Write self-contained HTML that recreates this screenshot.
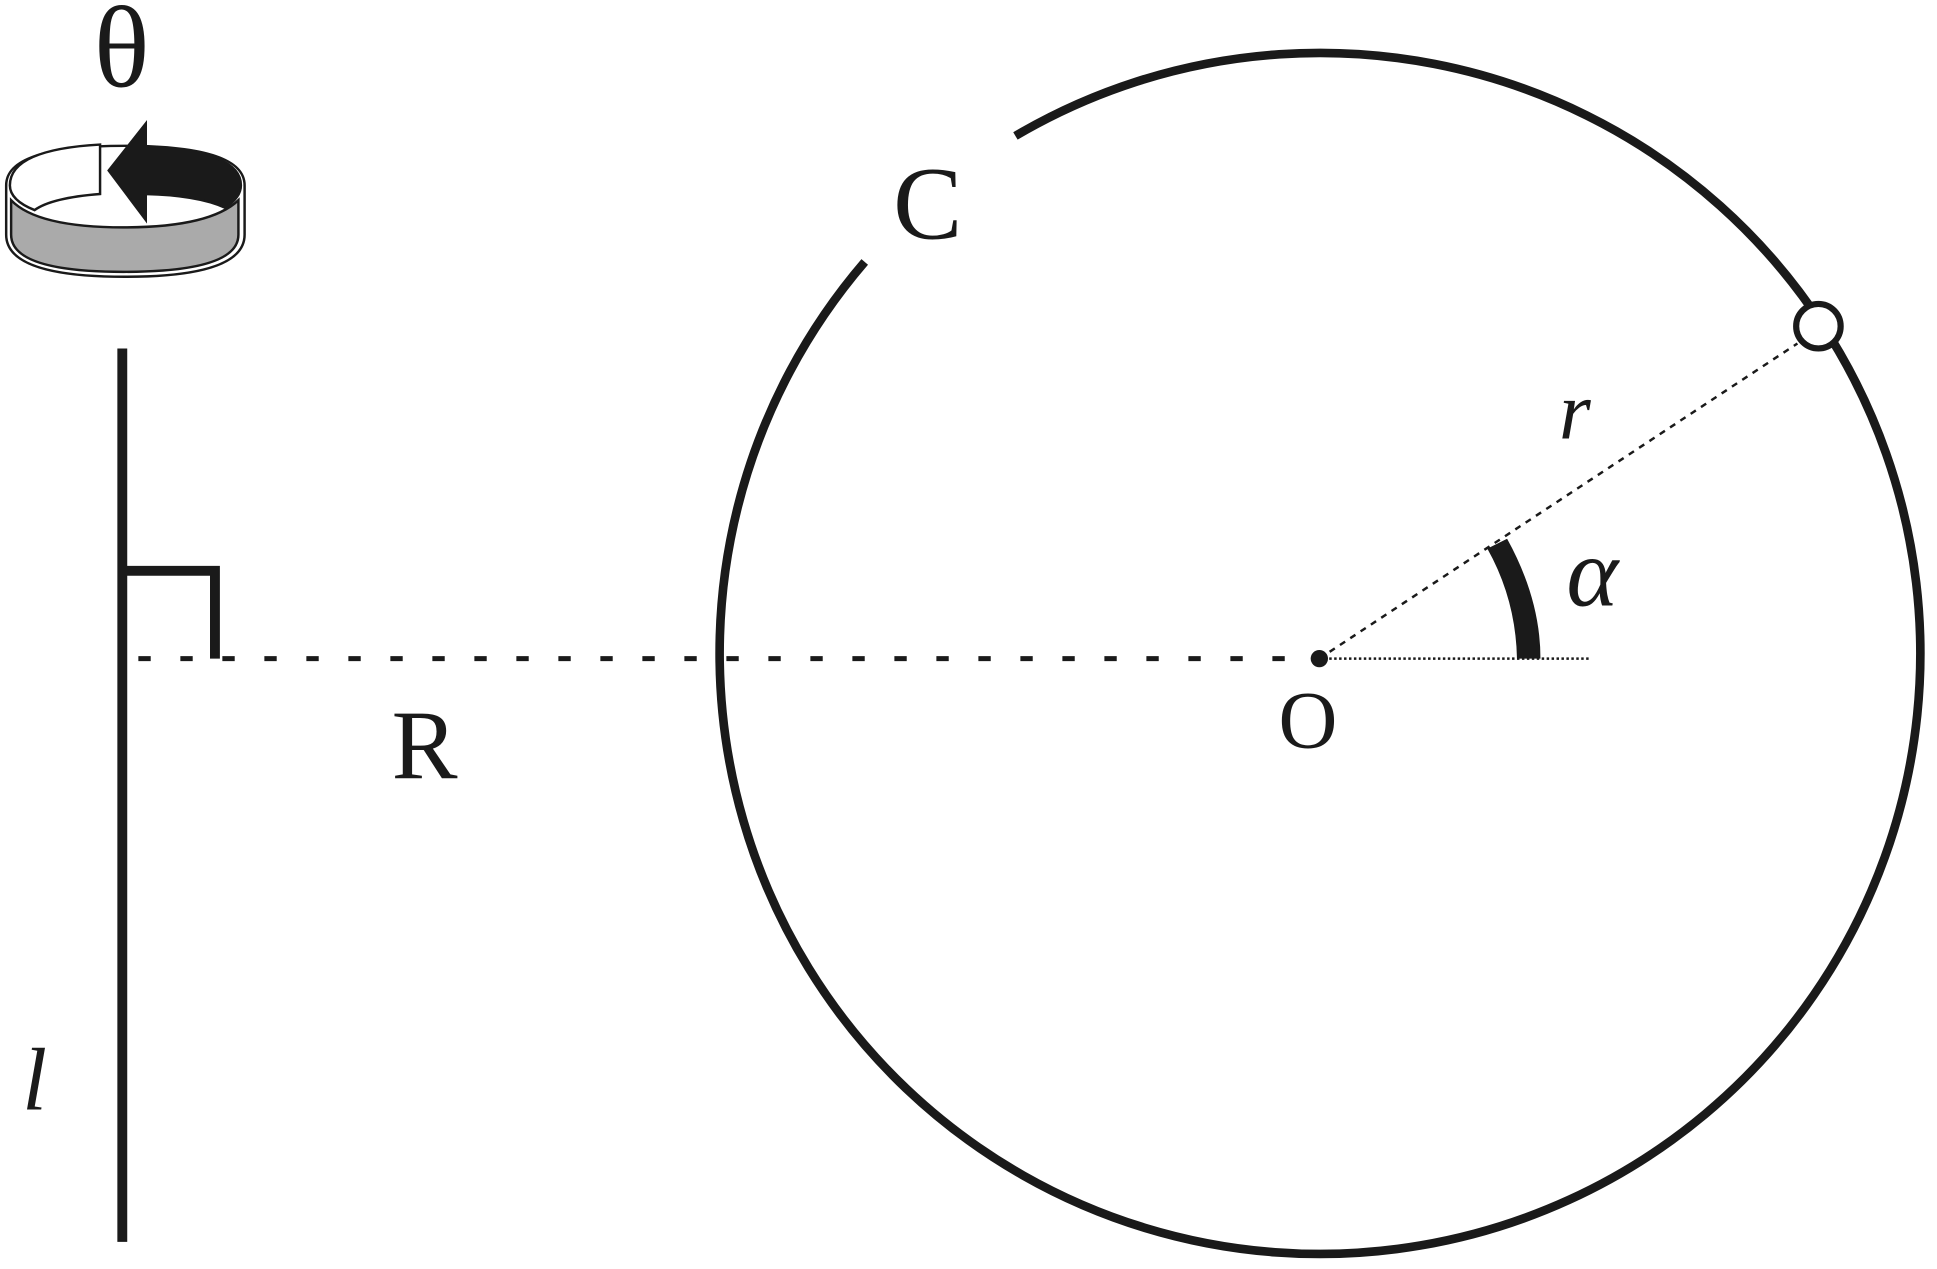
<!DOCTYPE html>
<html><head><meta charset="utf-8"><style>
html,body{margin:0;padding:0;background:#fff;}
svg{display:block;}
text{font-family:"Liberation Serif",serif;fill:#1a1a1a;}
</style></head><body>
<svg width="1937" height="1269" viewBox="0 0 1568 1027" preserveAspectRatio="none" xmlns="http://www.w3.org/2000/svg">
<!-- main circle with gap -->
<path d="M822,110 A486,486 0 1 1 700,212" fill="none" stroke="#1a1a1a" stroke-width="7"/>
<!-- radius dashed -->
<line x1="1068" y1="533" x2="1455" y2="278" stroke="#1a1a1a" stroke-width="2" stroke-dasharray="5,5"/>
<line x1="1068" y1="533" x2="1288" y2="533" stroke="#1a1a1a" stroke-width="2" stroke-dasharray="2,2"/>
<!-- angle arc -->
<path d="M1204,444 Q1227,485 1228,533 L1247,533 Q1247,485 1220,436 Z" fill="#1a1a1a"/>
<circle cx="1068" cy="533" r="7" fill="#1a1a1a"/>
<circle cx="1472" cy="264" r="18" fill="#fff" stroke="#1a1a1a" stroke-width="5"/>
<!-- R dashed line -->
<line x1="112" y1="533" x2="1045" y2="533" stroke="#1a1a1a" stroke-width="4" stroke-dasharray="10,24"/>
<!-- vertical axis l -->
<line x1="99" y1="282" x2="99" y2="1005" stroke="#1a1a1a" stroke-width="8"/>
<polyline points="99,462 174,462 174,533" fill="none" stroke="#1a1a1a" stroke-width="8"/>
<!-- rotation icon -->
<path d="M5,150 Q5,118 101,118 Q198,118 198,150 L198,190 Q198,224 101,224 Q5,224 5,190 Z" fill="#fff" stroke="#1a1a1a" stroke-width="2"/>
<path d="M8,150 Q8,121 81,117 L81,157 Q42,160 28,170 Q8,162 8,150 Z" fill="#fff" stroke="#1a1a1a" stroke-width="2"/>
<path d="M118,119 Q195,122 195,150 Q195,160 182,168 Q160,158 118,157 L118,178 L88,138 L118,100 Z" fill="#1a1a1a" stroke="#1a1a1a" stroke-width="2"/>
<path d="M9,162 Q30,184 100,184 Q170,184 193,162 L193,190 Q193,220 100,220 Q9,220 9,190 Z" fill="#aaa" stroke="#1a1a1a" stroke-width="2"/>
<!-- labels -->
<text x="76" y="70" font-size="94">θ</text>
<text x="723" y="193" font-size="84">C</text>
<text x="1262" y="355" font-size="66" font-style="italic">r</text>
<text x="1268" y="490" font-size="80" font-style="italic">α</text>
<text x="1035" y="605" font-size="66">O</text>
<text x="317" y="630" font-size="80">R</text>
<text x="18" y="898" font-size="72" font-style="italic">l</text>
</svg>
</body></html>
